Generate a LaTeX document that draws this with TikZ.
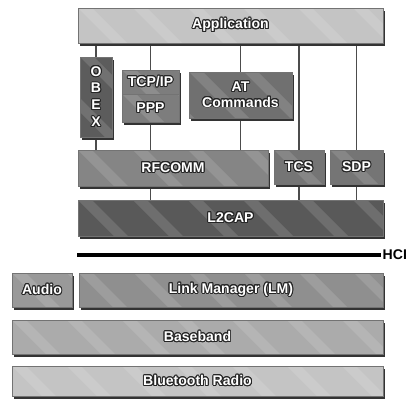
\documentclass[tikz,border=0pt]{standalone}
\usepackage{fontspec}
\setsansfont{Liberation Sans}
\usepackage{contour}
\contourlength{0.7pt}
\usetikzlibrary{positioning, shadows, backgrounds, calc}

\tikzset{
  layer/.style={fill=#1, draw=black!55, line width=0.3pt, inner sep=0pt,
    drop shadow={shadow xshift=1.2pt, shadow yshift=-1.8pt, fill=black!80, opacity=1},
    path picture={
      \foreach \k in {-3,...,8}
        \fill[white, opacity=0.13]
          ($(path picture bounding box.north west)+(\k*55,0)$) -- ++(14,0)
          -- ++(100,-100) -- ++(-14,0) -- cycle;
    },
    font=\sffamily\bfseries\fontsize{10}{11}\selectfont, text=white},
  size/.style 2 args={minimum width=#1*0.025cm, minimum height=#2*0.025cm},
  link/.style={draw=black!70, line width=1.3pt}
}
\newcommand{\lbl}[1]{\contour{black!85}{#1}}

\begin{document}
\begin{tikzpicture}[x=0.025cm, y=0.025cm]
        \useasboundingbox (0,0) rectangle (413,-401);

        % Top
        \node[layer=black!23, size={305}{35}] (app) at (230.5,-25.5) {\lbl{Application}};

        % Upper protocols
        \node[layer=black!64, size={32}{80}, align=center] (obex) at (96,-97)
          {\lbl{O}\\[1pt]\lbl{B}\\[1pt]\lbl{E}\\[1pt]\lbl{X}};
        \node[layer=black!51, size={57}{24}] (tcp) at (150.5,-82) {\lbl{TCP/IP}};
        \node[layer=black!51, size={57}{28}] (ppp) at (150.5,-108) {\lbl{PPP}};
        \node[layer=black!56, size={103}{46}, align=center] (at) at (240.5,-95)
          {\lbl{AT}\\\lbl{Commands}};

        % Middle
        \node[layer=black!48, size={190}{36}] (rfcomm) at (173,-168) {\lbl{RFCOMM}};
        \node[layer=black!54, size={50}{34}] (tcs) at (299,-167) {\lbl{TCS}};
        \node[layer=black!54, size={53}{34}] (sdp) at (356.5,-167) {\lbl{SDP}};
        \node[layer=black!65, size={305}{36}] (l2cap) at (230.5,-218) {\lbl{L2CAP}};

        % HCI
        \coordinate (hcia) at (77,-255);
        \coordinate (hcib) at (381,-255);
        \draw[line width=2.2pt] (hcia) -- (hcib);
        \node[right=1pt of hcib, font=\sffamily\bfseries\fontsize{10}{11}\selectfont, inner sep=0pt] (hci) {HCI};

        % Lower layers
        \node[layer=black!40, size={60}{34}] (audio) at (42,-290) {\lbl{Audio}};
        \node[layer=black!44, size={304}{34}] (lm) at (231,-290) {\lbl{Link Manager (LM)}};
        \node[layer=black!33, size={371}{34}] (bb) at (197.5,-337) {\lbl{Baseband}};
        \node[layer=black!23, size={371}{30}] (radio) at (197.5,-381) {\lbl{Bluetooth Radio}};

        % Connectors
        \begin{scope}[on background layer]
        \foreach \n in {obex,tcp,at,tcs,sdp}
          \draw[link] (\n.north |- app.south) -- (\n.north);
        \foreach \n in {obex,ppp,at}
          \draw[link] (\n.south) -- (\n.south |- rfcomm.north);
        \foreach \n in {ppp,tcs,sdp}
          \draw[link] (\n.south |- rfcomm.south) -- (\n.south |- l2cap.north);
        \end{scope}
      \end{tikzpicture}
\end{document}
